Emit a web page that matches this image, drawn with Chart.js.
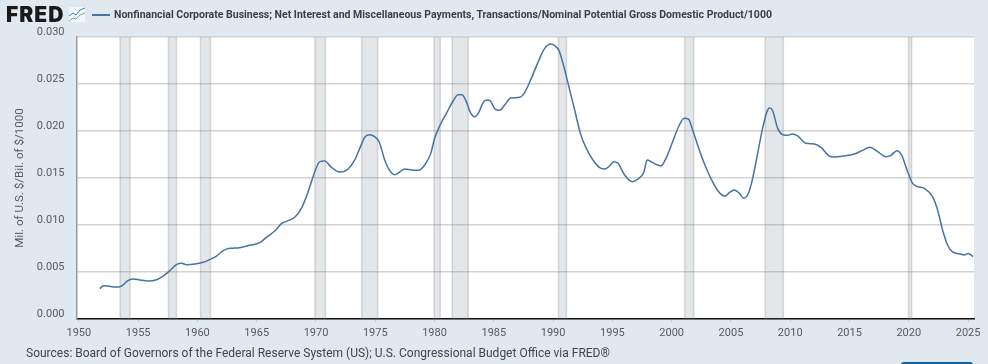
<!DOCTYPE html>
<html>
<head>
<meta charset="utf-8">
<title>FRED chart</title>
<style>
  html, body { margin: 0; padding: 0; background: #e1e9f0; }
  #wrap { position: relative; width: 988px; height: 364px; overflow: hidden; font-family: Roboto, sans-serif; }
  #chartCanvas { position: absolute; left: 0; top: 0; }
  #logo { position: absolute; left: 6px; top: 0; font: 900 21px/30px Inter, "Liberation Sans", sans-serif; letter-spacing: 1px; color: #1a1a1a; }
  #icon { position: absolute; left: 69px; top: 7px; }
  #legendLine { position: absolute; left: 92px; top: 14px; width: 18px; height: 2px; background: #4572a7; }
  #legendText { position: absolute; left: 114px; top: 7.5px; font: 700 10.53px/14px Roboto, sans-serif; color: #3c3f44; white-space: nowrap; }
  #sources { position: absolute; left: 26px; top: 345px; font: 12px/16px Roboto, sans-serif; color: #444; white-space: nowrap; }
  #button { position: absolute; left: 901px; top: 362px; width: 72px; height: 6px; border-radius: 3px 3px 0 0; background: #1261a0; }
</style>
</head>
<body>
<div id="wrap">
  <canvas id="chartCanvas" width="988" height="364"></canvas>
  <div id="logo">FRED</div>
  <svg id="icon" width="16" height="15" viewBox="0 0 16 15">
    <rect width="16" height="15" fill="#f4f6f8"/>
    <polyline points="0,9 4,6 7,8 11,3 16,1" fill="none" stroke="#3b82c4" stroke-width="1"/>
    <polyline points="0,14 4,11 7,12 11,8 16,6" fill="none" stroke="#5bb89a" stroke-width="1"/>
  </svg>
  <div id="legendLine"></div>
  <div id="legendText"></div>
  <div id="sources"></div>
  <div id="button"></div>
</div>
<script src="https://cdn.jsdelivr.net/npm/chart.js@4"></script>
<script>
const seriesName = "Nonfinancial Corporate Business; Net Interest and Miscellaneous Payments, Transactions/Nominal Potential Gross Domestic Product/1000";
const sourceText = "Sources: Board of Governors of the Federal Reserve System (US); U.S. Congressional Budget Office via FRED®";
const yAxisTitle = "Mil. of U.S. $/Bil. of $/1000";

const years = [
  1951.77, 1952.05, 1952.47, 1953.03, 1953.46, 1953.74, 1954.07, 1954.58, 1955.14, 1955.84,
  1956.55, 1957.11, 1957.67, 1958.23, 1958.66, 1959.08, 1959.78, 1960.48, 1960.90, 1961.61,
  1962.17, 1962.73, 1963.57, 1964.42, 1965.26, 1965.82, 1966.52, 1967.09, 1967.65, 1968.21,
  1968.77, 1969.34, 1969.90, 1970.32, 1970.74, 1971.30, 1972.00, 1972.71, 1973.27, 1973.69,
  1974.11, 1974.48, 1974.95, 1975.32, 1975.80, 1976.22, 1976.64, 1977.06, 1977.48, 1978.05,
  1978.61, 1979.17, 1979.68, 1980.01, 1980.43, 1981.00, 1981.56, 1981.98, 1982.32, 1982.68,
  1983.02, 1983.39, 1983.72, 1984.09, 1984.43, 1984.71, 1985.13, 1985.49, 1985.92, 1986.42,
  1987.18, 1987.60, 1988.16, 1988.87, 1989.29, 1989.77, 1990.13, 1990.50, 1990.83, 1991.26,
  1991.82, 1992.30, 1992.80, 1993.36, 1993.93, 1994.35, 1994.77, 1995.11, 1995.47, 1996.03,
  1996.68, 1997.16, 1997.64, 1997.94, 1998.42, 1998.82, 1999.10, 1999.52, 2000.08, 2000.65,
  2001.07, 2001.41, 2001.77, 2002.33, 2002.98, 2003.60, 2004.16, 2004.50, 2004.86, 2005.28,
  2005.71, 2006.07, 2006.47, 2006.83, 2007.25, 2007.67, 2008.04, 2008.26, 2008.52, 2008.94,
  2009.44, 2009.78, 2010.20, 2010.62, 2011.33, 2012.03, 2012.59, 2013.29, 2013.72, 2014.56,
  2015.40, 2016.11, 2016.72, 2017.37, 2018.07, 2018.49, 2019.00, 2019.39, 2019.90, 2020.32,
  2020.74, 2021.30, 2022.00, 2022.43, 2022.85, 2023.27, 2023.69, 2024.25, 2024.68, 2025.01,
  2025.43
];
const values = [
  0.00323, 0.00355, 0.00351, 0.00340, 0.00344, 0.00362, 0.00404, 0.00426, 0.00415, 0.00404,
  0.00418, 0.00457, 0.00514, 0.00578, 0.00592, 0.00578, 0.00585, 0.00603, 0.00624, 0.00670,
  0.00727, 0.00752, 0.00759, 0.00784, 0.00812, 0.00869, 0.00936, 0.01014, 0.01046, 0.01082,
  0.01177, 0.01355, 0.01567, 0.01674, 0.01681, 0.01613, 0.01564, 0.01596, 0.01692, 0.01815,
  0.01933, 0.01961, 0.01940, 0.01886, 0.01692, 0.01578, 0.01535, 0.01564, 0.01596, 0.01585,
  0.01582, 0.01638, 0.01762, 0.01922, 0.02053, 0.02188, 0.02319, 0.02386, 0.02386, 0.02312,
  0.02198, 0.02152, 0.02195, 0.02301, 0.02330, 0.02319, 0.02230, 0.02220, 0.02277, 0.02351,
  0.02358, 0.02408, 0.02560, 0.02773, 0.02879, 0.02925, 0.02908, 0.02855, 0.02720, 0.02507,
  0.02223, 0.01975, 0.01815, 0.01692, 0.01610, 0.01596, 0.01628, 0.01674, 0.01656, 0.01532,
  0.01461, 0.01489, 0.01557, 0.01692, 0.01663, 0.01638, 0.01628, 0.01709, 0.01886, 0.02064,
  0.02135, 0.02128, 0.02011, 0.01798, 0.01585, 0.01425, 0.01326, 0.01308, 0.01344, 0.01372,
  0.01337, 0.01284, 0.01337, 0.01496, 0.01762, 0.02028, 0.02206, 0.02245, 0.02216, 0.02028,
  0.01957, 0.01954, 0.01968, 0.01947, 0.01869, 0.01862, 0.01826, 0.01734, 0.01723, 0.01734,
  0.01755, 0.01794, 0.01826, 0.01780, 0.01727, 0.01741, 0.01791, 0.01745, 0.01567, 0.01443,
  0.01408, 0.01390, 0.01301, 0.01160, 0.00947, 0.00787, 0.00713, 0.00695, 0.00681, 0.00698,
  0.00663
];

const recessionStarts = [1953.47, 1957.56, 1960.26, 1969.91, 1973.85, 1979.97, 1981.49, 1990.45, 2001.1, 2007.89, 2019.98];
const recessionEnds = [1954.31, 1958.23, 1961.1, 1970.8, 1975.2, 1980.48, 1982.84, 1991.13, 2001.85, 2009.42, 2020.24];

const xTickYears = [1950, 1955, 1960, 1965, 1970, 1975, 1980, 1985, 1990, 1995, 2000, 2005, 2010, 2015, 2020, 2025];

document.getElementById("legendText").textContent = seriesName;
document.getElementById("sources").textContent = sourceText;

// White plot background, drawn before the grid
const plotBackground = {
  id: "plotBackground",
  beforeDraw(chart) {
    const a = chart.chartArea;
    chart.ctx.fillStyle = "#ffffff";
    chart.ctx.fillRect(a.left, a.top, a.right - a.left, a.bottom - a.top);
  }
};

// Recession bands over the grid, under the line
const recessionBands = {
  id: "recessionBands",
  beforeDatasetsDraw(chart) {
    const ctx = chart.ctx;
    const a = chart.chartArea;
    const x = chart.scales.x;
    recessionStarts.forEach((start, i) => {
      const x0 = x.getPixelForValue(start);
      const x1 = x.getPixelForValue(recessionEnds[i]);
      ctx.fillStyle = "rgba(110,125,140,0.19)";
      ctx.fillRect(x0, a.top, x1 - x0, a.bottom - a.top);
      ctx.fillStyle = "rgba(120,120,120,0.25)";
      ctx.fillRect(x0 - 0.75, a.top, 1.5, a.bottom - a.top);
      ctx.fillRect(x1 - 0.75, a.top, 1.5, a.bottom - a.top);
    });
  }
};

new Chart(document.getElementById("chartCanvas"), {
  type: "line",
  data: {
    datasets: [{
      label: seriesName,
      data: years.map((year, i) => ({ x: year, y: values[i] })),
      borderColor: "#4572a7",
      borderWidth: 1.5,
      pointRadius: 0,
      cubicInterpolationMode: "monotone",
      clip: true
    }]
  },
  options: {
    responsive: false,
    animation: false,
    layout: { padding: { top: 37, right: 14, left: 0, bottom: 0 } },
    plugins: { legend: { display: false }, tooltip: { enabled: false } },
    scales: {
      x: {
        type: "linear",
        min: 1949.8,
        max: 2025.5,
        afterFit: scale => { scale.height = 45; },
        afterBuildTicks: scale => { scale.ticks = xTickYears.map(v => ({ value: v })); },
        grid: { drawOnChartArea: false, drawTicks: true, tickLength: 3, tickColor: "#c8c8c8" },
        border: { color: "#111111", width: 1.5 },
        ticks: {
          autoSkip: false,
          maxRotation: 0,
          padding: 5,
          color: "#595959",
          font: { family: "Roboto", size: 11 },
          callback: value => String(value)
        }
      },
      y: {
        min: 0,
        max: 0.03,
        afterFit: scale => { scale.width = 76.5; },
        grid: { color: "#d3d3d3", lineWidth: 1.5, drawTicks: false },
        border: { color: "#999999", width: 1.5 },
        title: {
          display: true,
          text: yAxisTitle,
          color: "#595959",
          font: { family: "Roboto", size: 11.6 },
          padding: { top: 13, bottom: 0 }
        },
        ticks: {
          stepSize: 0.005,
          padding: 12,
          labelOffset: -5,
          color: "#595959",
          font: { family: "Roboto", size: 11 },
          callback: value => value.toFixed(3)
        }
      }
    }
  },
  plugins: [plotBackground, recessionBands]
});
</script>
</body>
</html>
